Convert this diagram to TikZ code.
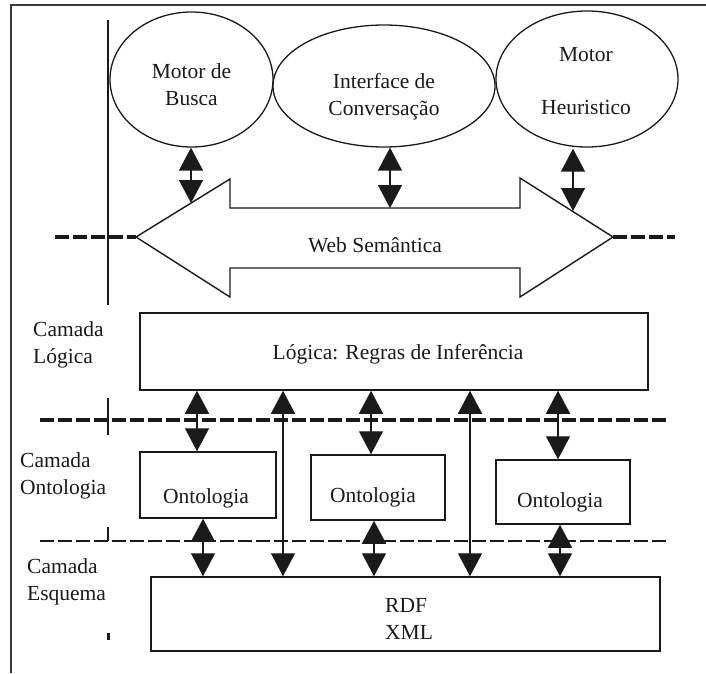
\documentclass[tikz,border=0pt]{standalone}
\usepackage{fontspec}
\setmainfont{Liberation Serif}
\usetikzlibrary{arrows.meta,shapes.geometric}
\definecolor{ink}{HTML}{1A1A1A}
\definecolor{framegray}{HTML}{3A3A3A}
\begin{document}
\begin{tikzpicture}[x=1pt,y=-1pt,
  every node/.style={font=\fontsize{21.5}{27}\selectfont, text=ink, inner sep=0pt},
  bubble/.style={draw=ink, line width=1.3pt, ellipse},
  layerbox/.style={draw=ink, line width=1.5pt, rectangle},
  link/.style={draw=ink, line width=1.4pt, {Triangle[length=23pt,width=24pt]}-{Triangle[length=23pt,width=24pt]}},
  layerline/.style={draw=ink, line width=3.4pt, dash pattern=on 14pt off 4pt},
  guide/.style={draw=ink, line width=1.4pt},
]
\useasboundingbox (0,0) rectangle (706,673);

% outer frame (top and left edges)
\draw[framegray, line width=2.6pt] (706,5) -- (11,5) -- (11,673);

% left guide line and ticks
\draw[guide] (108,20) -- (108,305);
\draw[guide] (108,398) -- (108,435);
\draw[guide] (108,527) -- (108,541);
\fill[ink] (107,633) rectangle (109.5,640);

% application bubbles
\node[bubble, minimum width=163pt, minimum height=135pt] (e1) at (191.5,79.5) {};
\node[bubble, minimum width=222pt, minimum height=122pt] (e2) at (384,86) {};
\node[bubble, minimum width=182pt, minimum height=136pt] (e3) at (587,79) {};
\node[align=center] (t1) at (191.5,85) {Motor de\\Busca};
\node[align=center] (t2) at (384,97) {Interface de\\Conversação};
\node[align=center] (t3) at (586,81.5) {Motor\\[26pt]Heuristico};

% Semantic Web double arrow
\coordinate (tipL) at (136,237);
\coordinate (tipR) at (613,237);
\draw[guide] (tipL) -- (230,179) -- (230,208) -- (520,208) -- (520,178)
  -- (tipR) -- (520,297) -- (520,268) -- (230,268) -- (230,297) -- cycle;
\node (web) at (375,245) {Web Semântica};
\draw[layerline] (55,237) -- (tipL);
\draw[layerline] (tipR) -- (675,237);

% bubble to web links
\coordinate (w1) at (191,203);
\coordinate (w2) at (390,208);
\coordinate (w3) at (573,211);
\draw[link] (e1.south -| w1) -- (w1);
\draw[link] (e2.south -| w2) -- (w2);
\draw[link] ([yshift=-1pt]e3.south -| w3) -- (w3);

% layer labels
\node[anchor=west, align=left] (lbl1) at (33,345) {Camada\\Lógica};
\node[anchor=west, align=left] (lbl2) at (20,476) {Camada\\Ontologia};
\node[anchor=west, align=left] (lbl3) at (27,582) {Camada\\Esquema};

% logic layer
\node[layerbox, minimum width=508pt, minimum height=77pt] (logic) at (394,351.5) {};
\node (logictxt) at (398,354) {Lógica: Regras de Inferência};

% ontology layer
\node[layerbox, minimum width=136pt, minimum height=66pt] (o1) at (208,485) {};
\node[layerbox, minimum width=134pt, minimum height=65pt] (o2) at (378,487.5) {};
\node[layerbox, minimum width=134pt, minimum height=64pt] (o3) at (563,492) {};
\node (ot1) at (206,498) {Ontologia};
\node (ot2) at (373,497) {Ontologia};
\node (ot3) at (560,502) {Ontologia};

% schema layer
\node[layerbox, minimum width=509pt, minimum height=74pt] (rdf) at (405.5,614) {};
\node[anchor=west, align=left] (rdftxt) at (385,618.5) {RDF\\XML};

% layer separators
\draw[layerline] (40,420) -- (668,420);
\draw[layerline, line width=2.8pt] (40,541) -- (668,541);

% inter-layer links
\coordinate (x1) at (197,0);
\coordinate (x1b) at (203,0);
\coordinate (x2) at (283,0);
\coordinate (x3) at (371,0);
\coordinate (x3b) at (374,0);
\coordinate (x4) at (470,0);
\coordinate (x5) at (558,0);
\coordinate (x5b) at (560,0);
\draw[link] (logic.south -| x1) -- (o1.north -| x1);
\draw[link] (logic.south -| x3) -- (o2.north -| x3);
\draw[link] (logic.south -| x5) -- (o3.north -| x5);
\draw[link] (logic.south -| x2) -- (rdf.north -| x2);
\draw[link] (logic.south -| x4) -- (rdf.north -| x4);
\draw[link] (o1.south -| x1b) -- (rdf.north -| x1b);
\draw[link] (o2.south -| x3b) -- (rdf.north -| x3b);
\draw[link] (o3.south -| x5b) -- (rdf.north -| x5b);
\end{tikzpicture}
\end{document}
